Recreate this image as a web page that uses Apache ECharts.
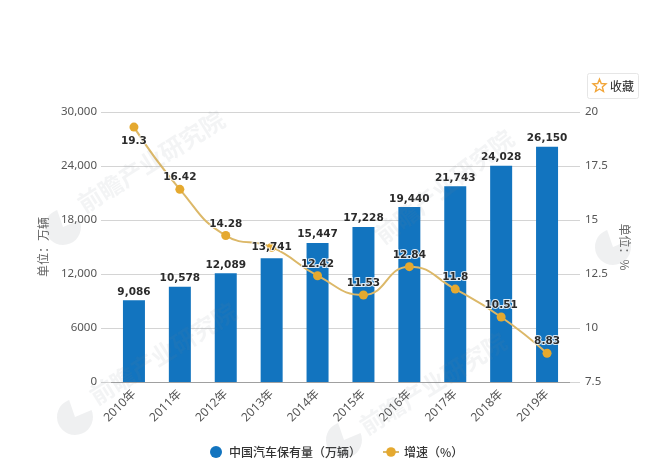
<!DOCTYPE html>
<html>
<head>
<meta charset="utf-8">
<style>html,body{margin:0;padding:0;background:#fff}#c{width:656px;height:466px}</style>
<script src="https://cdn.jsdelivr.net/npm/echarts@6/dist/echarts.min.js"></script>
</head>
<body>
<div id="c"></div>
<script>
const categories = ['2010年','2011年','2012年','2013年','2014年','2015年','2016年','2017年','2018年','2019年'];
const stockName = '中国汽车保有量（万辆）';
const growthName = '增速（%）';
const stock = [9086,10578,12089,13741,15447,17228,19440,21743,24028,26150];
const growth = [19.3,16.42,14.28,13.741,12.42,11.53,12.84,11.8,10.51,8.83];
const growthLabels = ['19.3','16.42','14.28','13,741','12.42','11.53','12.84','11.8','10.51','8.83'];
const leftTicks = {0:'0',6000:'6000',12000:'12,000',18000:'18,000',24000:'24,000',30000:'30,000'};

const font = '"Noto Sans","Noto Sans CJK SC",sans-serif';
const cjk = '"Noto Sans CJK SC",sans-serif';
const labelFont = '"DejaVu Sans","Noto Sans CJK SC",sans-serif';
function markText(x, y, rot) {
  return {type:'text', x:x, y:y, rotation:rot, silent:true, z:50,
    style:{text:'前瞻产业研究院', font:'bold 24px "Noto Sans CJK SC"', fill:'rgba(120,130,140,0.09)', textVerticalAlign:'middle'}};
}
function markLogo(x, y) {
  return {type:'sector', shape:{cx:x, cy:y, r:18, r0:0, startAngle:-0.4, endAngle:4.38}, silent:true, z:50,
    style:{fill:'rgba(120,130,140,0.12)'}};
}
const star = [];
for (let i = 0; i < 10; i++) {
  const r = i % 2 ? 3 : 6.8, a = -Math.PI / 2 + i * Math.PI / 5;
  star.push([599.5 + r * Math.cos(a), 86 + r * Math.sin(a)]);
}
const chart = echarts.init(document.getElementById('c'), null, {renderer:'canvas'});
chart.setOption({
  animation:false,
  backgroundColor:'#fff',
  grid:{left:111, right:86, top:112, bottom:84},
  legend:{
    bottom:3, left:205, itemGap:21, itemWidth:16, itemHeight:12,
    textStyle:{fontFamily:cjk, fontSize:12, color:'#333', fontWeight:500},
    data:[{name:stockName, icon:'circle'},{name:growthName}]
  },
  xAxis:{
    type:'category', data:categories,
    axisLine:{lineStyle:{color:'#a0a0a0'}},
    axisTick:{alignWithLabel:true, length:6, lineStyle:{color:'#a0a0a0'}},
    axisLabel:{rotate:45, fontFamily:font, fontSize:12, color:'#555', margin:10, interval:0}
  },
  yAxis:[
    {type:'value', min:0, max:30000, interval:6000, name:'单位：万辆',
     nameLocation:'middle', nameGap:62, nameRotate:90,
     nameTextStyle:{fontFamily:cjk, fontSize:12, color:'#666'},
     axisLine:{show:false},
     axisTick:{show:true, length:10, lineStyle:{color:'#d4d4d4'}},
     splitLine:{lineStyle:{color:'#d4d4d4'}},
     axisLabel:{fontFamily:font, fontSize:11.5, color:'#555', margin:14, formatter:v=>leftTicks[v]}},
    {type:'value', min:7.5, max:20, interval:2.5, name:'单位：%',
     nameLocation:'middle', nameGap:46, nameRotate:-90,
     nameTextStyle:{fontFamily:cjk, fontSize:12, color:'#666'},
     axisLine:{show:false},
     axisTick:{show:true, length:10, lineStyle:{color:'#d4d4d4'}},
     splitLine:{show:false},
     axisLabel:{fontFamily:font, fontSize:11.5, color:'#555', margin:15}}
  ],
  series:[
    {name:stockName, type:'bar', barWidth:22, yAxisIndex:0,
     data:stock.map((v,i)=> i===3 ? {value:v,label:{show:false}} : v),
     itemStyle:{color:'#1274bf'},
     label:{show:true, position:'top', distance:3, fontFamily:labelFont, fontSize:10.5, fontWeight:'bold', color:'#2b2b2b', formatter:p=>p.value.toLocaleString('en-US')}},
    {name:growthName, type:'line', yAxisIndex:1, smooth:true,
     data:growth.map((v,i)=> i===0 ? {value:v,label:{position:'bottom',distance:4}} : i===3 ? {value:v,label:{position:'inside'}} : v),
     symbol:'circle', symbolSize:9,
     lineStyle:{color:'#dcb868', width:2},
     itemStyle:{color:'#e5a92f'},
     label:{show:true, position:'top', distance:2, fontFamily:labelFont, fontSize:10.5, fontWeight:'bold', color:'#2b2b2b',
       textBorderColor:'rgba(255,255,255,0.85)', textBorderWidth:2,
       formatter:p=>growthLabels[p.dataIndex]}}
  ],
  graphic:[
    markText(80,206,0.56), markLogo(63,227),
    markText(92,398,0.56), markLogo(75,417),
    markText(362,428,0.56), markLogo(344,440),
    markText(378,238,0.66), markLogo(613,247),
    {type:'rect', shape:{x:587.5,y:73.5,width:51,height:25,r:2}, z:60, silent:true,
     style:{fill:'#fff', stroke:'#e6e6e6', lineWidth:1}},
    {type:'polygon', shape:{points:star}, z:61, silent:true,
     style:{fill:'#fff', stroke:'#f2a63a', lineWidth:1.4}},
    {type:'text', x:610, y:86, z:61, silent:true,
     style:{text:'收藏', font:'12px "Noto Sans CJK SC"', fill:'#222', textVerticalAlign:'middle'}}
  ]
});
</script>
</body>
</html>
